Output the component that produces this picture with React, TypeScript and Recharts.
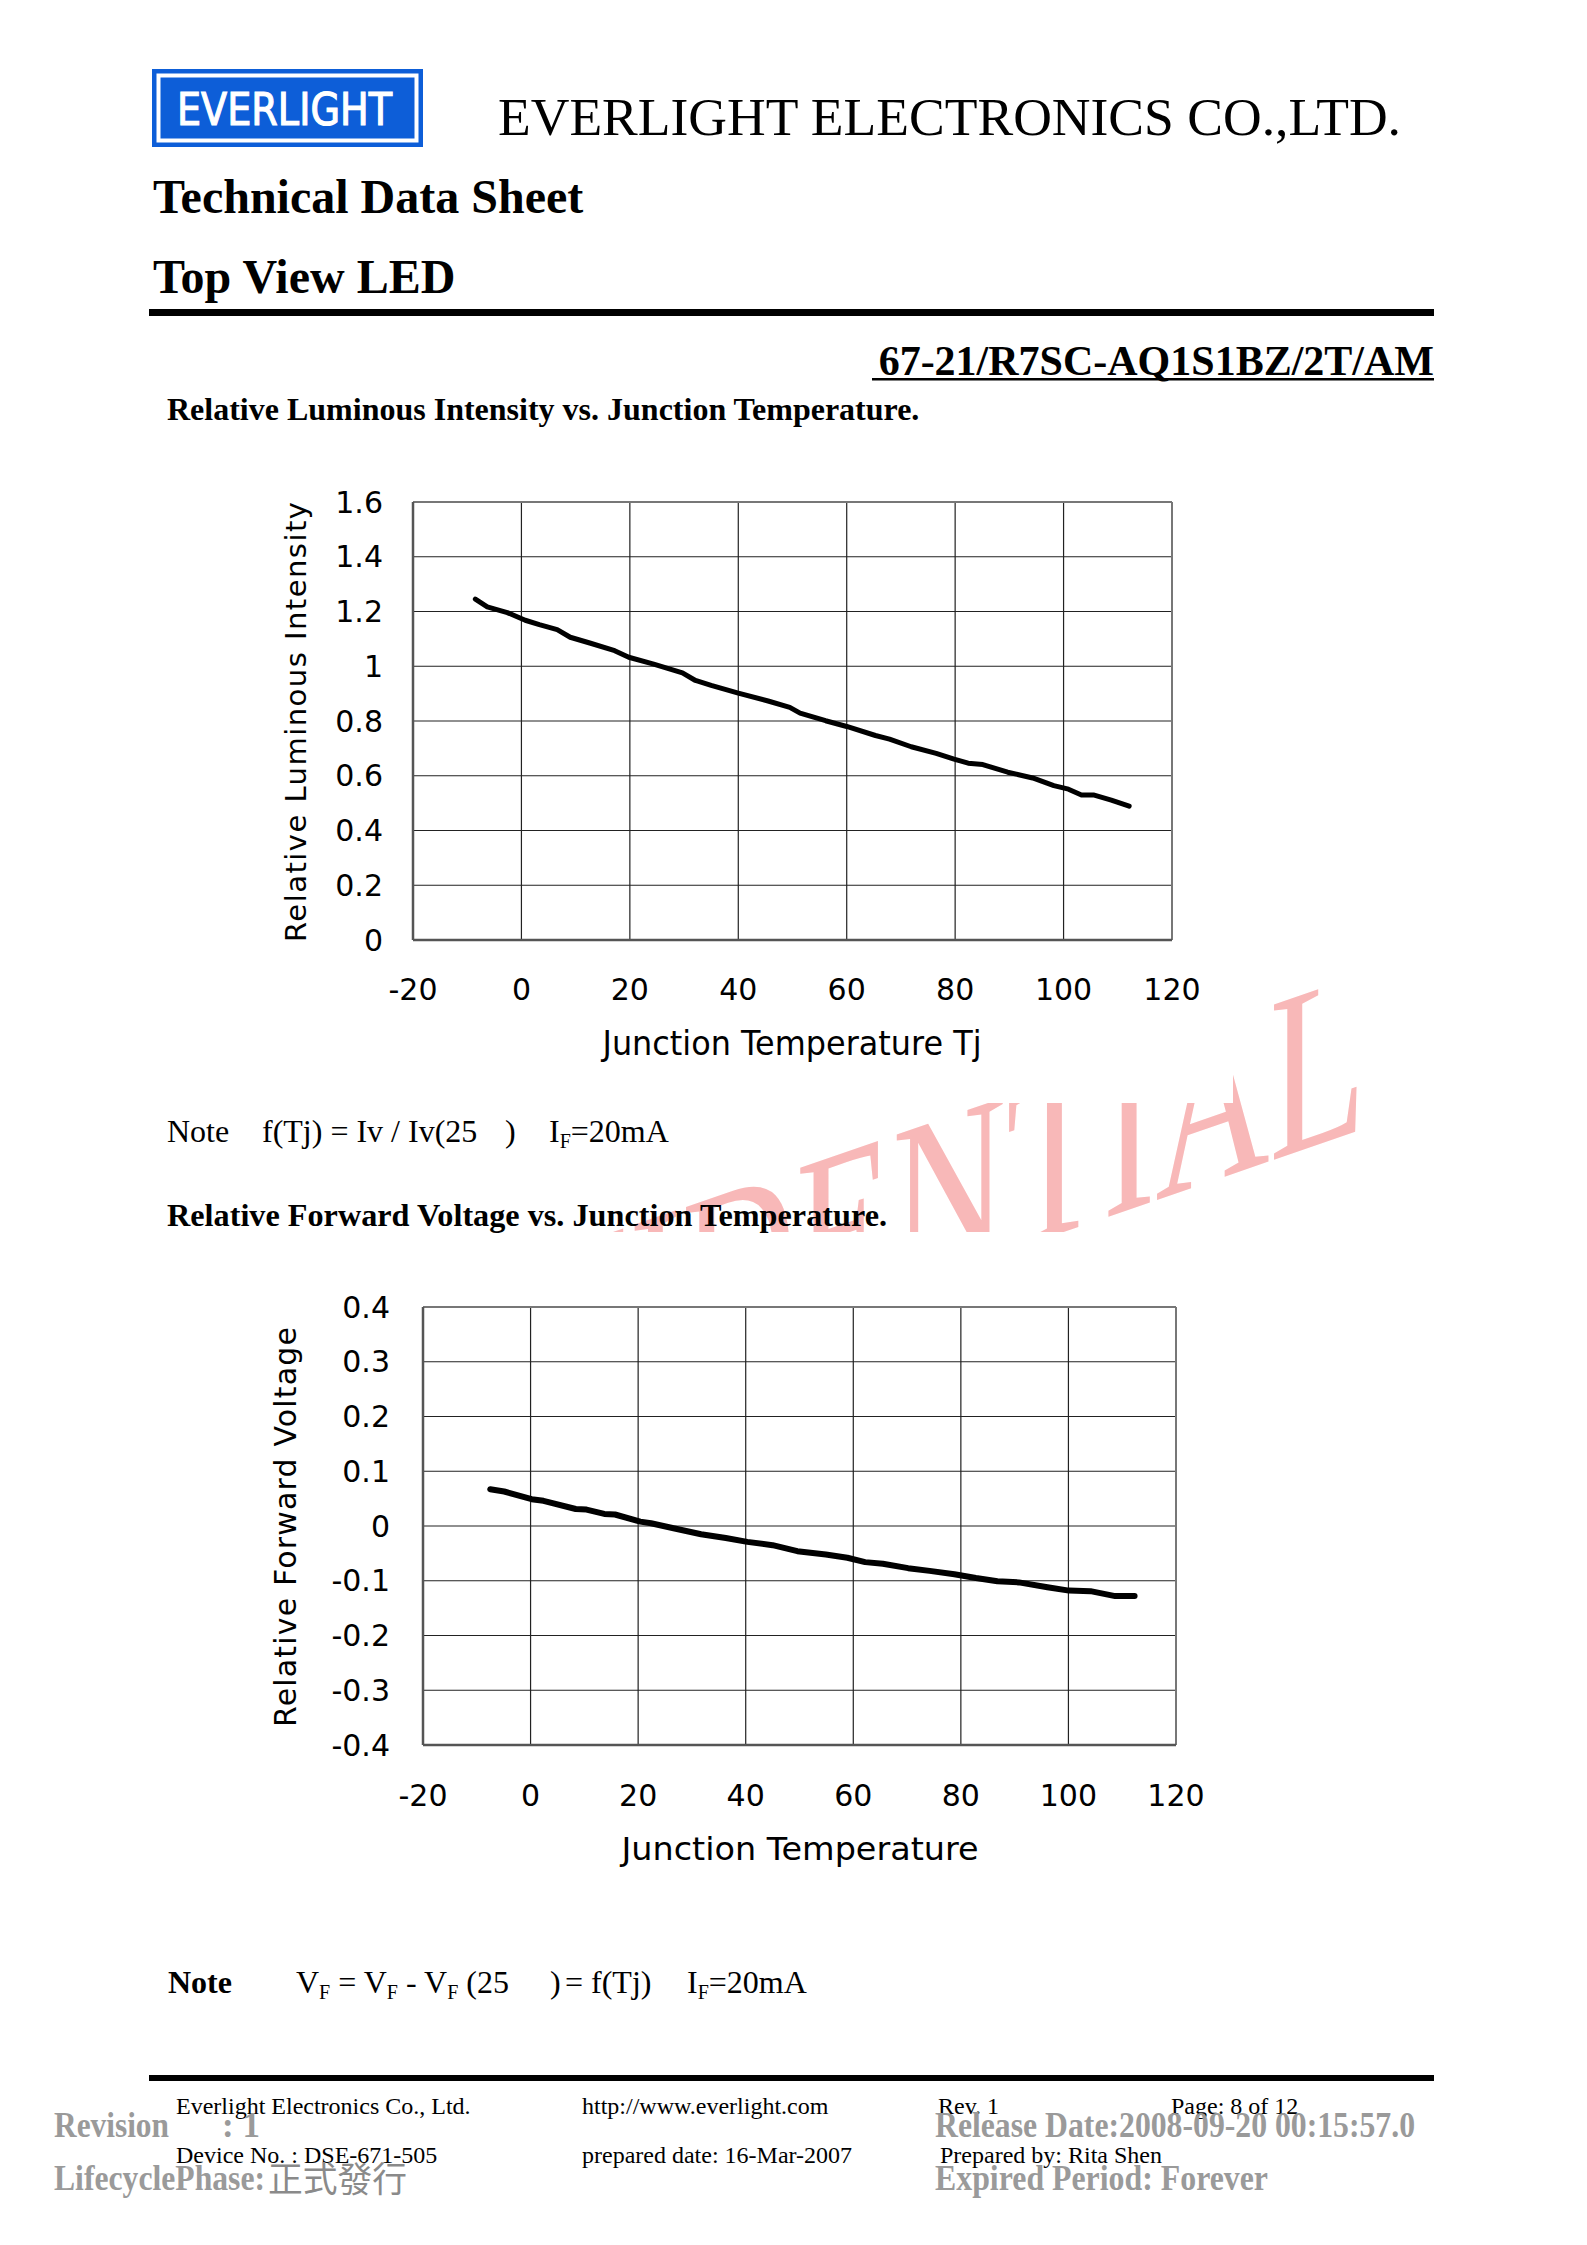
import React from 'react';
import { LineChart, Line, XAxis, YAxis, CartesianGrid, ReferenceLine } from 'recharts';

// ---------- data ----------
const tempTicks = [-20, 0, 20, 40, 60, 80, 100, 120];
const ivTicks = [0, 0.2, 0.4, 0.6, 0.8, 1, 1.2, 1.4, 1.6];
const vfTicks = [-0.4, -0.3, -0.2, -0.1, 0, 0.1, 0.2, 0.3, 0.4];

const ivTemp = [-8.5, -6.3, -2.6, 0.7, 3.3, 6.6, 9.0, 12.6, 17.2, 19.8, 24.4, 29.7, 32.1, 35.0, 40.0, 45.5, 49.5, 51.4, 56.1, 60.0, 65.3, 67.9, 71.9, 76.5, 79.8, 82.4, 85.1, 89.7, 94.3, 98.2, 100.9, 103.3, 105.5, 108.8, 112.1];
const ivValue = [1.245, 1.217, 1.196, 1.168, 1.152, 1.134, 1.106, 1.085, 1.057, 1.033, 1.008, 0.976, 0.948, 0.930, 0.902, 0.873, 0.850, 0.829, 0.801, 0.780, 0.747, 0.734, 0.706, 0.682, 0.661, 0.646, 0.641, 0.613, 0.592, 0.564, 0.551, 0.530, 0.530, 0.511, 0.489];

const vfTemp = [-7.5, -4.9, 0.2, 2.4, 8.4, 10.4, 13.7, 15.7, 20.4, 22.4, 27.0, 31.7, 36.3, 40.3, 45.0, 49.6, 54.9, 58.9, 62.2, 65.5, 70.2, 74.2, 78.8, 82.8, 86.8, 90.8, 96.1, 100.1, 104.1, 108.7, 112.3];
const vfValue = [0.067, 0.063, 0.049, 0.046, 0.031, 0.030, 0.022, 0.021, 0.008, 0.005, -0.005, -0.015, -0.022, -0.029, -0.035, -0.046, -0.052, -0.058, -0.066, -0.069, -0.077, -0.082, -0.088, -0.095, -0.101, -0.103, -0.112, -0.118, -0.119, -0.128, -0.128];

const ivData = ivTemp.map((t, i) => ({ t, v: ivValue[i] }));
const vfData = vfTemp.map((t, i) => ({ t, v: vfValue[i] }));

const SERIF = '"Liberation Serif", "Times New Roman", serif';
const SANS = '"DejaVu Sans", sans-serif';
const GRAY = '#9a9a9a';

const tickStyle = { fontSize: 30, fontFamily: SANS, fill: '#000' };

function Chart1() {
  return (
    <div style={{ position: 'absolute', left: 250, top: 470, width: 1000, height: 630 }}>
      <LineChart width={1000} height={630} data={ivData} margin={{ top: 32, right: 78, bottom: 0, left: 0 }}>
        <CartesianGrid stroke="#222" strokeWidth={1.2} />
        <XAxis dataKey="t" type="number" domain={[-20, 120]} ticks={tempTicks} height={160}
          tickSize={0} tickMargin={39} tick={tickStyle} axisLine={{ stroke: '#555', strokeWidth: 2.5 }} />
        <YAxis type="number" domain={[0, 1.6]} ticks={ivTicks} width={163}
          tickSize={0} tickMargin={30} tick={tickStyle} tickFormatter={(v) => String(v)}
          axisLine={{ stroke: '#555', strokeWidth: 2.5 }} />
        <ReferenceLine y={1.6} stroke="#777" strokeWidth={2} />
        <ReferenceLine x={120} stroke="#777" strokeWidth={2} />
        <Line dataKey="v" type="linear" stroke="#000" strokeWidth={5} dot={false}
          strokeLinecap="round" strokeLinejoin="round" isAnimationActive={false} />
      </LineChart>
    </div>
  );
}

function Chart2() {
  return (
    <div style={{ position: 'absolute', left: 250, top: 1270, width: 1000, height: 650 }}>
      <LineChart width={1000} height={650} data={vfData} margin={{ top: 37, right: 74, bottom: 0, left: 0 }}>
        <CartesianGrid stroke="#222" strokeWidth={1.2} />
        <XAxis dataKey="t" type="number" domain={[-20, 120]} ticks={tempTicks} height={175}
          tickSize={0} tickMargin={40} tick={tickStyle} axisLine={{ stroke: '#555', strokeWidth: 2.5 }} />
        <YAxis type="number" domain={[-0.4, 0.4]} ticks={vfTicks} width={173}
          tickSize={0} tickMargin={33} tick={tickStyle} tickFormatter={(v) => String(v)}
          axisLine={{ stroke: '#555', strokeWidth: 2.5 }} />
        <ReferenceLine y={0.4} stroke="#777" strokeWidth={2} />
        <ReferenceLine x={120} stroke="#777" strokeWidth={2} />
        <Line dataKey="v" type="linear" stroke="#000" strokeWidth={6} dot={false}
          strokeLinecap="round" strokeLinejoin="round" isAnimationActive={false} />
      </LineChart>
    </div>
  );
}

function Page() {
  const sub = (s: string) => (
    <tspan fontSize={20} dy={6}>{s}</tspan>
  );
  return (
    <svg width={1587} height={2245} style={{ position: 'absolute', left: 0, top: 0 }}>
      <defs>
        <clipPath id="wmclip">
          <rect x={150} y={1103} width={1300} height={129} />
          <rect x={1233} y={900} width={300} height={332} />
        </clipPath>
      </defs>
      {/* watermark */}
      <g clipPath="url(#wmclip)">
        <text transform="translate(1366,1128) skewY(-19) scale(1,1.5)" textAnchor="end"
          fontFamily={SERIF} fontSize={158} fill="#f8b8b8">CONFIDENTIAL</text>
      </g>

      {/* logo */}
      <rect x={152} y={69} width={271} height={78} fill="#0d5ed8" />
      <rect x={158.5} y={75.5} width={258} height={65} fill="none" stroke="#fff" strokeWidth={4} />
      <text x={177} y={125} fontFamily={SANS} fontSize={44} fill="#fff" stroke="#fff" strokeWidth={1.2}
        textLength={215} lengthAdjust="spacingAndGlyphs">EVERLIGHT</text>

      <text x={498} y={135} fontFamily={SERIF} fontSize={53} fill="#000"
        textLength={903} lengthAdjust="spacingAndGlyphs">EVERLIGHT ELECTRONICS CO.,LTD.</text>
      <text x={153} y={213} fontFamily={SERIF} fontWeight="bold" fontSize={48} fill="#000">Technical Data Sheet</text>
      <text x={153} y={293} fontFamily={SERIF} fontWeight="bold" fontSize={48} fill="#000">Top View LED</text>
      <rect x={149} y={309} width={1285} height={7} fill="#000" />

      <text x={1434} y={375} textAnchor="end" fontFamily={SERIF} fontWeight="bold" fontSize={42} fill="#000">67-21/R7SC-AQ1S1BZ/2T/AM</text>
      <rect x={872} y={378} width={562} height={2.5} fill="#000" />

      <text x={167} y={420} fontFamily={SERIF} fontWeight="bold" fontSize={32} fill="#000">Relative Luminous Intensity vs. Junction Temperature.</text>

      {/* chart 1 axis titles */}
      <text transform="translate(306,722) rotate(-90)" textAnchor="middle" fontFamily={SANS} fontSize={29}
        fill="#000" textLength={440}>Relative Luminous Intensity</text>
      <text x={792} y={1055} textAnchor="middle" fontFamily={SANS} fontSize={33} fill="#000"
        textLength={379} lengthAdjust="spacingAndGlyphs">Junction Temperature Tj</text>

      {/* note 1 */}
      <text x={167} y={1142} fontFamily={SERIF} fontSize={32} fill="#000">Note</text>
      <text x={262} y={1142} fontFamily={SERIF} fontSize={32} fill="#000">f(Tj) = Iv / Iv(25</text>
      <text x={505} y={1142} fontFamily={SERIF} fontSize={32} fill="#000">)</text>
      <text x={549} y={1142} fontFamily={SERIF} fontSize={32} fill="#000">I{sub('F')}<tspan dy={-6}>=20mA</tspan></text>

      <text x={167} y={1226} fontFamily={SERIF} fontWeight="bold" fontSize={32} fill="#000"
        textLength={720} lengthAdjust="spacingAndGlyphs">Relative Forward Voltage vs. Junction Temperature.</text>

      {/* chart 2 axis titles */}
      <text transform="translate(296,1527) rotate(-90)" textAnchor="middle" fontFamily={SANS} fontSize={30}
        fill="#000" textLength={400}>Relative Forward Voltage</text>
      <text x={800} y={1860} textAnchor="middle" fontFamily={SANS} fontSize={32} fill="#000"
        textLength={357} lengthAdjust="spacingAndGlyphs">Junction Temperature</text>

      {/* note 2 */}
      <text x={168} y={1993} fontFamily={SERIF} fontWeight="bold" fontSize={32} fill="#000">Note</text>
      <text x={296} y={1993} fontFamily={SERIF} fontSize={32} fill="#000" xmlSpace="preserve">
        V{sub('F')}<tspan dy={-6}> = V</tspan>{sub('F')}<tspan dy={-6}> - V</tspan>{sub('F')}<tspan dy={-6}> (25</tspan>
      </text>
      <text x={550} y={1993} fontFamily={SERIF} fontSize={32} fill="#000">)</text>
      <text x={565} y={1993} fontFamily={SERIF} fontSize={32} fill="#000">= f(Tj)</text>
      <text x={687} y={1993} fontFamily={SERIF} fontSize={32} fill="#000">I{sub('F')}<tspan dy={-6}>=20mA</tspan></text>

      {/* footer */}
      <rect x={149} y={2075} width={1285} height={6} fill="#000" />
      <text x={176} y={2114} fontFamily={SERIF} fontSize={24} fill="#000">Everlight Electronics Co., Ltd.</text>
      <text x={582} y={2114} fontFamily={SERIF} fontSize={24} fill="#000">http://www.everlight.com</text>
      <text x={938} y={2114} fontFamily={SERIF} fontSize={24} fill="#000">Rev. 1</text>
      <text x={1171} y={2114} fontFamily={SERIF} fontSize={24} fill="#000">Page: 8 of 12</text>
      <text x={176} y={2163} fontFamily={SERIF} fontSize={24} fill="#000">Device No. : DSE-671-505</text>
      <text x={582} y={2163} fontFamily={SERIF} fontSize={24} fill="#000">prepared date: 16-Mar-2007</text>
      <text x={940} y={2163} fontFamily={SERIF} fontSize={24} fill="#000">Prepared by: Rita Shen</text>

      <text x={54} y={2137} fontFamily={SERIF} fontWeight="bold" fontSize={35} fill={GRAY}
        textLength={115} lengthAdjust="spacingAndGlyphs">Revision</text>
      <text x={222} y={2137} fontFamily={SERIF} fontWeight="bold" fontSize={35} fill={GRAY}>: 1</text>
      <text x={935} y={2137} fontFamily={SERIF} fontWeight="bold" fontSize={35} fill={GRAY}
        textLength={480} lengthAdjust="spacingAndGlyphs">Release Date:2008-09-20 00:15:57.0</text>
      <text x={54} y={2190} fontFamily={SERIF} fontWeight="bold" fontSize={35} fill={GRAY}
        textLength={211} lengthAdjust="spacingAndGlyphs">LifecyclePhase:</text>
      <text x={268} y={2192} fontFamily={'"Noto Sans CJK TC", sans-serif'} fontSize={35} fill="#8a8a8a"
        textLength={139} lengthAdjust="spacingAndGlyphs">正式發行</text>
      <text x={935} y={2190} fontFamily={SERIF} fontWeight="bold" fontSize={35} fill={GRAY}
        textLength={333} lengthAdjust="spacingAndGlyphs">Expired Period: Forever</text>
    </svg>
  );
}

export default function App() {
  return (
    <div style={{ position: 'absolute', left: 0, top: 0, width: 1587, height: 2245, background: '#fff', overflow: 'hidden' }}>
      <Page />
      <Chart1 />
      <Chart2 />
    </div>
  );
}
